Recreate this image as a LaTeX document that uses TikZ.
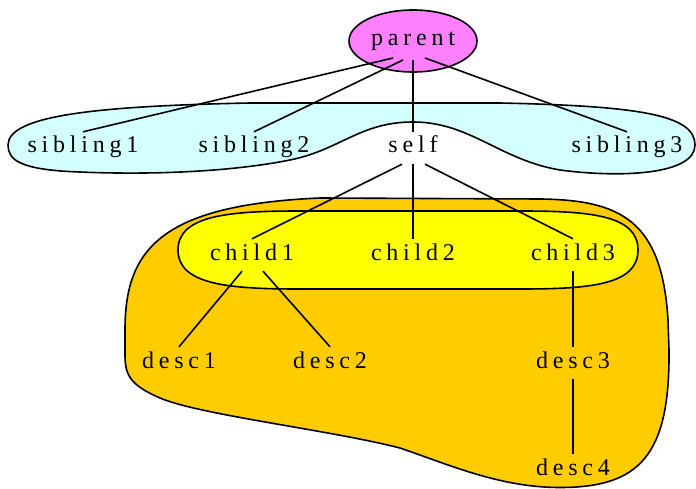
\documentclass[tikz,border=0pt]{standalone}
\usepackage{fontspec}
\newfontfamily\lblfont[LetterSpace=20]{Liberation Serif}
\usetikzlibrary{shapes.geometric,calc}
\definecolor{parentpink}{HTML}{FF80FF}
\definecolor{sibcyan}{HTML}{D4FFFF}
\definecolor{childyellow}{HTML}{FFFF00}
\definecolor{descgold}{HTML}{FFCC00}

\tikzset{
  lbl/.style={font=\lblfont\fontsize{24}{24}\selectfont, text height=14pt, text depth=4pt, inner xsep=2pt, inner ysep=7pt},
  link/.style={line width=1.6pt},
  blob/.style={draw, line width=1.6pt},
}

\begin{document}
\begin{tikzpicture}[x=1pt,y=-1pt]
\useasboundingbox (0,0) rectangle (696,489);
% clusters
\draw[blob, fill=descgold] (125,355) -- (125,330) .. controls (125,250) and (160,205) .. (320,198)
  -- (540,199) .. controls (620,200) and (662,220) .. (668,320)
  -- (669,350) .. controls (670,455) and (640,487.5) .. (560,487.5)
  .. controls (500,487.5) and (450,465) .. (400,448)
  .. controls (330,430) and (200,415) .. (160,398)
  .. controls (130,385) and (125,375) .. cycle;
\draw[blob, fill=childyellow] (178,250) .. controls (178,215) and (230,211) .. (300,211)
  -- (520,211) .. controls (590,211) and (638,215) .. (638,250)
  .. controls (638,285) and (590,289) .. (520,289)
  -- (300,289) .. controls (230,289) and (178,285) .. cycle;
\draw[blob, fill=sibcyan] (8,145) .. controls (8,115) and (100,106) .. (250,103)
  -- (500,103) .. controls (640,106) and (695,115) .. (695,145)
  .. controls (695,175) and (620,178) .. (560,170)
  .. controls (500,160) and (470,122) .. (413,122)
  .. controls (360,122) and (340,150) .. (290,160)
  .. controls (230,172) and (150,175) .. (80,172)
  .. controls (20,170) and (8,160) .. cycle;

% nodes
\node[lbl, ellipse, draw, line width=1.6pt, fill=parentpink, minimum width=128pt, minimum height=62pt, inner sep=0pt] (parent) at (413,41) {parent};
\node[lbl] (sibling1) at (83,148) {sibling1};
\node[lbl] (sibling2) at (254,148) {sibling2};
\node[lbl] (self) at (413,148) {self};
\node[lbl] (sibling3) at (627,148) {sibling3};
\node[lbl] (child1) at (252,255) {child1};
\node[lbl] (child2) at (413,255) {child2};
\node[lbl] (child3) at (573,255) {child3};
\node[lbl] (desc1) at (179,363) {desc1};
\node[lbl] (desc2) at (330,363) {desc2};
\node[lbl] (desc3) at (573,363) {desc3};
\node[lbl] (desc4) at (573,470) {desc4};

% edges
\draw[link] ($(parent)+(-20,17)$) -- (sibling1.north);
\draw[link] ($(parent)+(-10,19)$) -- (sibling2.north);
\draw[link] ($(parent)+(0,19)$) -- (self.north);
\draw[link] ($(parent)+(12,17)$) -- (sibling3.north);
\draw[link] ($(self.south)+(-11,0)$) -- (child1.north);
\draw[link] (self) -- (child2);
\draw[link] ($(self.south)+(12,0)$) -- (child3.north);
\draw[link] ($(child1.south)+(-10,0)$) -- (desc1.north);
\draw[link] ($(child1.south)+(11,0)$) -- (desc2.north);
\draw[link] (child3) -- (desc3);
\draw[link] (desc3) -- (desc4);
\end{tikzpicture}
\end{document}
